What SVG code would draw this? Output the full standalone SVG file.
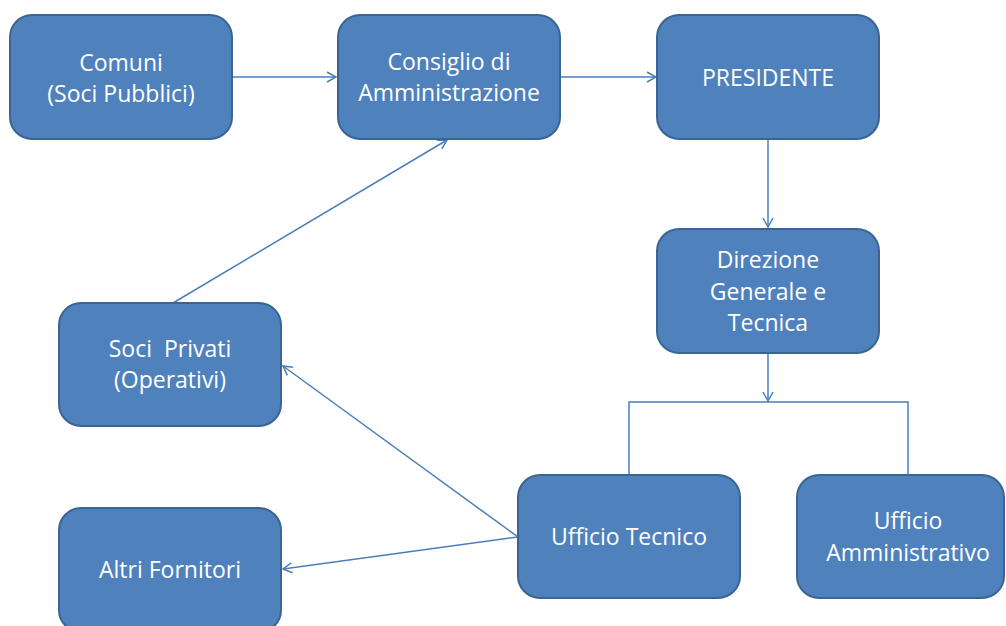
<svg xmlns="http://www.w3.org/2000/svg" width="1006" height="626" viewBox="0 0 1006 626">
<style>
.box{fill:#4F81BD;stroke:#3A6592;stroke-width:2}
.t{font-family:"Open Sans","Liberation Sans",sans-serif;font-size:23px;fill:#FFFFFF;text-anchor:middle}
.c{fill:none;stroke:#4A7EBB;stroke-width:1.5}
</style>
<defs>
<marker id="ah" markerUnits="userSpaceOnUse" markerWidth="14" markerHeight="14" refX="10" refY="6" orient="auto" overflow="visible">
<path d="M1,1 L10,6 L1,11" fill="none" stroke="#4A7EBB" stroke-width="1.5"/>
</marker>
</defs>
<rect width="1006" height="626" fill="#FFFFFF"/>
<g id="connectors">
<line class="c" x1="232" y1="77" x2="336" y2="77" marker-end="url(#ah)"/>
<line class="c" x1="561" y1="77" x2="656" y2="77" marker-end="url(#ah)"/>
<line class="c" x1="768" y1="139" x2="768" y2="227" marker-end="url(#ah)"/>
<line class="c" x1="768" y1="353" x2="768" y2="401" marker-end="url(#ah)"/>
<polyline class="c" points="629,475 629,402 908,402 908,475"/>
<line class="c" x1="173" y1="303" x2="447" y2="140" marker-end="url(#ah)"/>
<line class="c" x1="518" y1="537" x2="283" y2="366" marker-end="url(#ah)"/>
<line class="c" x1="518" y1="537" x2="283" y2="569" marker-end="url(#ah)"/>
</g>
<g id="comuni">
<rect class="box" x="10" y="15" width="222" height="124" rx="22"/>
<text class="t" x="121" y="71">Comuni</text>
<text class="t" x="121" y="102">(Soci Pubblici)</text>
</g>
<g id="consiglio">
<rect class="box" x="338" y="15" width="222" height="124" rx="22"/>
<text class="t" x="449" y="70">Consiglio di</text>
<text class="t" x="449" y="101">Amministrazione</text>
</g>
<g id="presidente">
<rect class="box" x="657" y="15" width="222" height="124" rx="22"/>
<text class="t" x="768" y="86">PRESIDENTE</text>
</g>
<g id="direzione">
<rect class="box" x="657" y="229" width="222" height="124" rx="22"/>
<text class="t" x="768" y="268">Direzione</text>
<text class="t" x="768" y="300">Generale e</text>
<text class="t" x="768" y="331">Tecnica</text>
</g>
<g id="soci-privati">
<rect class="box" x="59" y="303" width="222" height="123" rx="22"/>
<text class="t" x="170" y="357" xml:space="preserve">Soci  Privati</text>
<text class="t" x="170" y="388">(Operativi)</text>
</g>
<g id="altri-fornitori">
<rect class="box" x="59" y="508" width="222" height="124" rx="22"/>
<text class="t" x="170" y="578">Altri Fornitori</text>
</g>
<g id="ufficio-tecnico">
<rect class="box" x="518" y="475" width="222" height="123" rx="22"/>
<text class="t" x="629" y="545">Ufficio Tecnico</text>
</g>
<g id="ufficio-amministrativo">
<rect class="box" x="797" y="475" width="207" height="123" rx="22"/>
<text class="t" x="908" y="529">Ufficio</text>
<text class="t" x="908" y="561">Amministrativo</text>
</g>
</svg>
